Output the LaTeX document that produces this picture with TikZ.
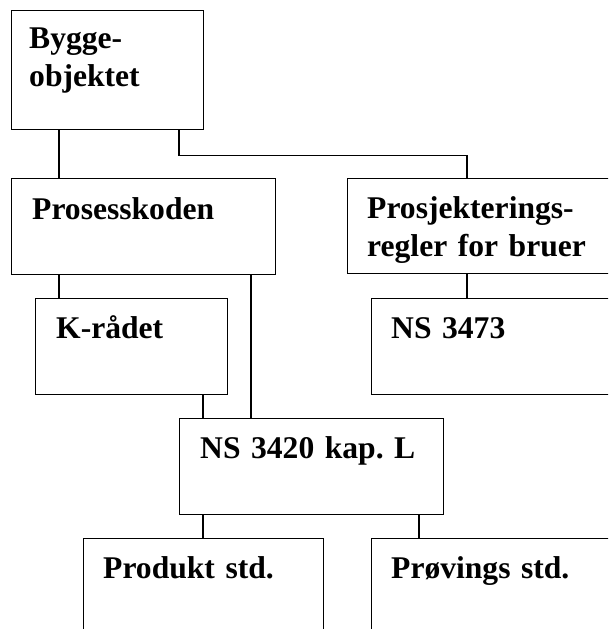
\documentclass[tikz,border=0pt]{standalone}
\usepackage{fontspec}
\setmainfont{Liberation Serif}
\usepackage{tikz}
\usetikzlibrary{positioning,calc}
\frenchspacing

\begin{document}
\begin{tikzpicture}[x=1pt,y=-1pt,
    box/.style={draw,line width=1.2pt,rectangle,inner sep=0pt,anchor=north west},
    txt/.style={anchor=base west,inner sep=0pt,text width=280pt,align=left,
      font=\fontsize{31.6}{38}\selectfont\bfseries\frenchspacing},
    link/.style={line width=1.2pt}]
    \useasboundingbox (0,0) rectangle (608,629);
    \clip (0,0) rectangle (608,629);

    \coordinate (xa) at (59,0);
    \coordinate (xb) at (179,0);
    \coordinate (xc) at (203,0);
    \coordinate (xd) at (251,0);
    \coordinate (xe) at (419,0);
    \coordinate (xf) at (467,0);

    \node[box,minimum width=192pt,minimum height=119pt] (bygge) at (11,10) {};
    \node[txt] (bygge-txt) at ([shift={(18,38)}]bygge.north west) {Bygge-\\objektet};

    \node[box,minimum width=264pt,minimum height=96pt] (prosess) at (11,178) {};
    \node[txt] (prosess-txt) at ([shift={(21,41)}]prosess.north west) {Prosesskoden};

    \node[box,minimum width=300pt,minimum height=95pt] (prosj) at (347,178) {};
    \node[txt] (prosj-txt) at ([shift={(20,40)}]prosj.north west) {Prosjekterings-\\regler for bruer};

    \node[box,minimum width=192pt,minimum height=96pt] (krad) at (35,298) {};
    \node[txt] (krad-txt) at ([shift={(21,40)}]krad.north west) {K-rådet};

    \node[box,minimum width=300pt,minimum height=96pt] (ns3473) at (371,298) {};
    \node[txt] (ns3473-txt) at ([shift={(20,40)}]ns3473.north west) {NS 3473};

    \node[box,minimum width=264pt,minimum height=96pt] (nsL) at (179,418) {};
    \node[txt] (nsL-txt) at ([shift={(21,40)}]nsL.north west) {NS 3420 kap. L};

    \node[box,minimum width=240pt,minimum height=150pt] (produkt) at (83,538) {};
    \node[txt] (produkt-txt) at ([shift={(20,40)}]produkt.north west) {Produkt std.};

    \node[box,minimum width=300pt,minimum height=150pt] (proving) at (371,538) {};
    \node[txt] (proving-txt) at ([shift={(20,40)}]proving.north west) {Prøvings std.};

    \draw[link] (bygge.south -| xa) -- (prosess.north -| xa);
    \draw[link] (bygge.south -| xb) -- ++(0,25) -| (prosj.north -| xf);
    \draw[link] (prosess.south -| xa) -- (krad.north -| xa);
    \draw[link] (prosess.south -| xd) -- (nsL.north -| xd);
    \draw[link] (krad.south -| xc) -- (nsL.north -| xc);
    \draw[link] (prosj.south -| xf) -- (ns3473.north -| xf);
    \draw[link] (nsL.south -| xc) -- (produkt.north -| xc);
    \draw[link] (nsL.south -| xe) -- (proving.north -| xe);
  \end{tikzpicture}
\end{document}
